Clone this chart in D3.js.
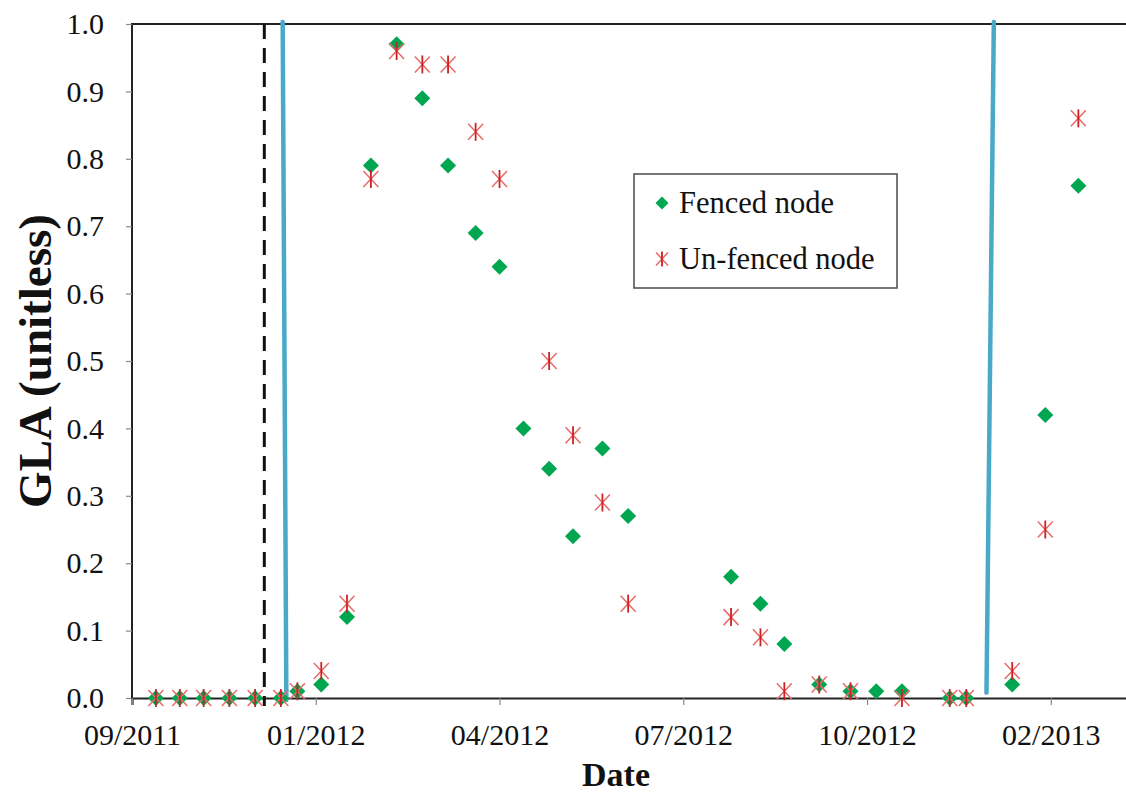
<!DOCTYPE html>
<html>
<head>
<meta charset="utf-8">
<script src="https://cdn.jsdelivr.net/npm/d3@7/dist/d3.min.js"></script>
<style>
  html, body { margin: 0; padding: 0; background: #ffffff; }
  svg { display: block; }
  text { font-family: "Liberation Serif", "Times New Roman", serif; fill: #111; }
</style>
</head>
<body>
<svg id="chart" width="1126" height="794"></svg>
<script>
// Sampling dates (shared by both nodes)
const sampleDates = [
  "2011-10-08", "2011-10-21", "2011-11-03", "2011-11-17", "2011-12-01", "2011-12-15",
  "2011-12-24", "2012-01-06", "2012-01-20", "2012-02-02", "2012-02-16", "2012-03-01",
  "2012-03-15", "2012-03-30", "2012-04-12", "2012-04-25", "2012-05-09", "2012-05-22",
  "2012-06-07", "2012-06-21", "2012-08-16", "2012-09-01", "2012-09-14", "2012-10-03",
  "2012-10-20", "2012-11-03", "2012-11-17", "2012-12-13", "2012-12-22", "2013-01-16",
  "2013-02-03", "2013-02-21"
];

// GLA, fenced node
const fencedGLA = [
  0, 0, 0, 0, 0, 0,
  0.01, 0.02, 0.12, 0.79, 0.97, 0.89,
  0.79, 0.69, 0.64, 0.40, 0.34, 0.24,
  0.37, 0.27, 0.18, 0.14, 0.08, 0.02,
  0.01, 0.01, 0.01, 0, 0, 0.02,
  0.42, 0.76
];

// GLA, un-fenced node (null = not sampled)
const unfencedGLA = [
  0, 0, 0, 0, 0, 0,
  0.01, 0.04, 0.14, 0.77, 0.96, 0.94,
  0.94, 0.84, 0.77, null, 0.50, 0.39,
  0.29, 0.14, 0.12, 0.09, 0.01, 0.02,
  0.01, null, 0, 0, 0, 0.04,
  0.25, 0.86
];

// Axis ticks
const xTickDates = ["2011-09-25", "2012-01-03", "2012-04-12", "2012-07-21", "2012-10-29", "2013-02-06"];
const yTickValues = [0, 0.1, 0.2, 0.3, 0.4, 0.5, 0.6, 0.7, 0.8, 0.9, 1.0];
const xDomain = ["2011-09-25", "2013-03-26"];

// Event markers: dashed line and two treatment lines (top / bottom dates)
const dashedEvent = { top: "2011-12-06", bottom: "2011-12-06" };
const treatmentEvents = [
  { top: "2011-12-16", bottom: "2011-12-18", low: -0.003 },
  { top: "2013-01-06", bottom: "2013-01-02", low: 0.008 }
];

const seriesNames = ["Fenced node", "Un-fenced node"];

const parse = d3.utcParse("%Y-%m-%d");
const svg = d3.select("#chart");
svg.append("rect").attr("width", 1126).attr("height", 794).attr("fill", "#fff");

const plot = { left: 132, top: 24, bottom: 698, right: 1139 };

const x = d3.scaleUtc()
  .domain(xDomain.map(parse))
  .range([plot.left, plot.right]);
const y = d3.scaleLinear()
  .domain([0, 1])
  .range([plot.bottom, plot.top]);

const GREEN = "#00a650";
const BLUE = "#4ba9c8";

// Plot frame (top and left)
svg.append("path")
  .attr("d", `M${plot.left},${plot.bottom} V${plot.top} H${plot.right}`)
  .attr("fill", "none").attr("stroke", "#222").attr("stroke-width", 2);

// Y axis
const yAxis = svg.append("g")
  .attr("transform", `translate(${plot.left},0)`)
  .call(d3.axisLeft(y).tickValues(yTickValues).tickFormat(d3.format(".1f")).tickSize(6).tickPadding(22));
yAxis.select(".domain").remove();
yAxis.selectAll(".tick line").attr("stroke", "#888").attr("stroke-width", 1.2);
yAxis.selectAll(".tick text")
  .style("font-family", "Liberation Serif").style("font-size", "30px").attr("fill", "#111");

// X axis
const xAxis = svg.append("g")
  .attr("transform", `translate(0,${plot.bottom})`)
  .call(d3.axisBottom(x).tickValues(xTickDates.map(parse)).tickFormat(d3.utcFormat("%m/%Y")).tickSize(7).tickPadding(17));
xAxis.select(".domain").attr("stroke", "#222").attr("stroke-width", 2.2);
xAxis.selectAll(".tick line").attr("stroke", "#888").attr("stroke-width", 1.2);
xAxis.selectAll(".tick text")
  .style("font-family", "Liberation Serif").style("font-size", "30px").attr("fill", "#111")
  .attr("dy", "0.75em");

// Axis titles
svg.append("text")
  .attr("x", 616).attr("y", 786)
  .attr("text-anchor", "middle")
  .style("font-size", "34px").style("font-weight", "bold")
  .text("Date");
svg.append("text")
  .attr("transform", `translate(51,${(plot.top + plot.bottom) / 2}) rotate(-90)`)
  .attr("text-anchor", "middle")
  .style("font-size", "47px").style("font-weight", "bold")
  .text("GLA (unitless)");

// Dashed event line
svg.append("line")
  .attr("x1", x(parse(dashedEvent.top))).attr("y1", plot.top)
  .attr("x2", x(parse(dashedEvent.bottom))).attr("y2", plot.bottom + 8)
  .attr("stroke", "#111").attr("stroke-width", 3)
  .attr("stroke-dasharray", "15,9");

// Treatment lines
svg.selectAll(".treat").data(treatmentEvents).join("line")
  .attr("class", "treat")
  .attr("x1", d => x(parse(d.top))).attr("y1", plot.top - 2)
  .attr("x2", d => x(parse(d.bottom))).attr("y2", d => y(d.low))
  .attr("stroke", BLUE).attr("stroke-width", 4.5).attr("stroke-linecap", "round");

// Marker shapes
function diamondPath(r) {
  return `M0,${-r} L${r},0 L0,${r} L${-r},0 Z`;
}
function drawAsterisk(g, rx, ry) {
  g.append("path")
    .attr("d", `M${-rx},${-ry} L${rx},${ry} M${-rx},${ry} L${rx},${-ry}`)
    .attr("stroke", "#e86a6a").attr("stroke-width", 1.5).attr("fill", "none");
  g.append("path")
    .attr("d", `M0,${-ry - 1} V${ry + 1}`)
    .attr("stroke", "#cc2222").attr("stroke-width", 1.8).attr("fill", "none");
}

const fencedPts = sampleDates.map((d, i) => ({ date: parse(d), v: fencedGLA[i] })).filter(p => p.v !== null);
const unfencedPts = sampleDates.map((d, i) => ({ date: parse(d), v: unfencedGLA[i] })).filter(p => p.v !== null);

svg.append("g").selectAll("path").data(fencedPts).join("path")
  .attr("transform", d => `translate(${x(d.date)},${y(d.v)})`)
  .attr("d", diamondPath(8))
  .attr("fill", GREEN);

svg.append("g").selectAll("g").data(unfencedPts).join("g")
  .attr("transform", d => `translate(${x(d.date)},${y(d.v)})`)
  .each(function () { drawAsterisk(d3.select(this), 7.5, 8); });

// Legend
const legend = svg.append("g").attr("transform", "translate(634,174)");
legend.append("rect")
  .attr("width", 263).attr("height", 114)
  .attr("fill", "#fff").attr("stroke", "#555").attr("stroke-width", 1.6);
const l1 = legend.append("g").attr("transform", "translate(28,29)");
l1.append("path").attr("d", diamondPath(6.5)).attr("fill", GREEN);
l1.append("text").attr("x", 17).attr("y", 10).style("font-size", "30.5px").text(seriesNames[0]);
const l2 = legend.append("g").attr("transform", "translate(28,85)");
drawAsterisk(l2, 6, 6.5);
l2.append("text").attr("x", 17).attr("y", 10).style("font-size", "30.5px").text(seriesNames[1]);
</script>
</body>
</html>
